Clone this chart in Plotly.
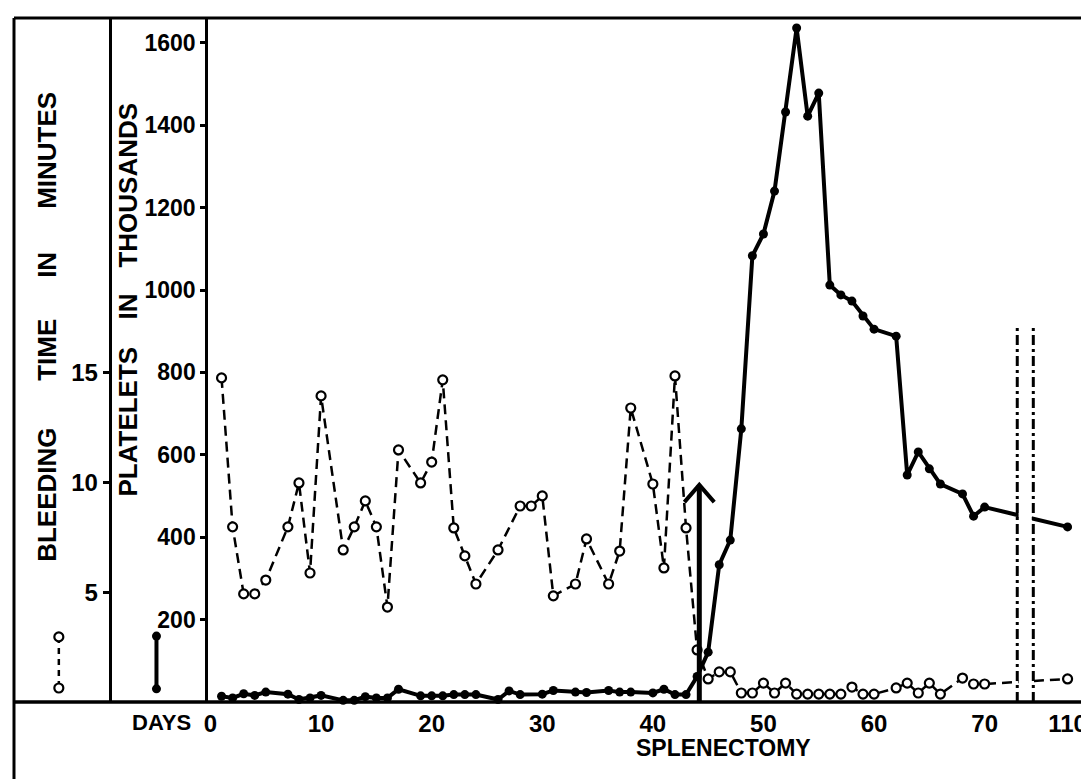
import plotly.graph_objects as go

# ---------------- data ----------------
platelet_days = [1, 2, 3, 4, 5, 7, 8, 9, 10, 12, 13, 14, 15, 16, 17, 19, 20, 21, 22, 23, 24,
                 26, 27, 28, 30, 31, 33, 34, 36, 37, 38, 40, 41, 42, 43, 44, 45, 46, 47, 48,
                 49, 50, 51, 52, 53, 54, 55, 56, 57, 58, 59, 60, 62, 63, 64, 65, 66, 68, 69, 70, 110]
platelets = [14, 10, 20, 16, 24, 19, 6, 10, 16, 4, 4, 13, 10, 10, 31, 15, 15, 15, 18, 18, 18,
             6, 27, 18, 19, 28, 24, 23, 28, 24, 24, 22, 31, 18, 18, 62, 121, 333, 393, 663,
             1083, 1136, 1240, 1432, 1636, 1422, 1478, 1012, 988, 973, 937, 905, 888, 551, 607,
             566, 529, 505, 451, 473, 425]

bleeding_days = [1, 2, 3, 4, 5, 7, 8, 9, 10, 12, 13, 14, 15, 16, 17, 19, 20, 21, 22, 23, 24,
                 26, 28, 29, 30, 31, 33, 34, 36, 37, 38, 40, 41, 42, 43, 44, 45, 46, 47, 48,
                 49, 50, 51, 52, 53, 54, 55, 56, 57, 58, 59, 60, 62, 63, 64, 65, 66, 68, 69, 70, 110]
bleeding_minutes = [14.75, 7.97, 4.92, 4.92, 5.55, 7.97, 9.97, 5.87, 13.93, 6.92, 7.97, 9.15, 7.97,
                    4.32, 11.47, 9.97, 10.92, 14.66, 7.92, 6.65, 5.37, 6.92, 8.92, 8.92, 9.38,
                    4.83, 5.37, 7.42, 5.37, 6.87, 13.38, 9.92, 6.1, 14.84, 7.92, 2.37, 1.05, 1.37,
                    1.37, 0.41, 0.41, 0.86, 0.41, 0.86, 0.36, 0.36, 0.36, 0.36, 0.36, 0.68, 0.36,
                    0.36, 0.64, 0.86, 0.41, 0.86, 0.36, 1.09, 0.82, 0.82, 1.05]

day_ticks = [0, 10, 20, 30, 40, 50, 60, 70, 110]
platelet_ticks = [200, 400, 600, 800, 1000, 1200, 1400, 1600]
bleeding_ticks = [5, 10, 15]
splenectomy_day = 44.2

# ---------------- geometry ----------------
W, H = 1089, 779
OFF = 8                     # page body margin
PLOT_LEFT = 205 - OFF
PLOT_TOP = 18 - OFF
PLOT_BOTTOM = 702 - OFF
PX_PER_DAY = 11.1
X_START = -0.2
PX_PER_PLATELET = 0.412
PLATELETS_PER_MINUTE = 800 / 15
BREAK_AT = 72          # days beyond this are drawn after the axis break
BREAK_POS = 77.5       # axis position of the post-break tick (day 110)
BREAK_LINES = [72.95, 74.4]

def axis_pos(d):
    return d if d <= BREAK_AT else BREAK_POS

x_range = [X_START, X_START + (W - PLOT_LEFT) / PX_PER_DAY]
y_top = (PLOT_BOTTOM - PLOT_TOP) / PX_PER_PLATELET
y_range = [0, y_top]
y2_range = [0, y_top / PLATELETS_PER_MINUTE]

def px(xp):
    return (xp - OFF) / W

def py(yp):
    return (PLOT_BOTTOM - (yp - OFF)) / (PLOT_BOTTOM - PLOT_TOP)

FAM = "Liberation Sans, Arial, sans-serif"
TICK_FONT = dict(family=FAM, size=23, color="black", weight="bold")
TITLE_FONT = dict(family=FAM, size=26, color="black", weight="bold")

OPEN_MARKER = dict(symbol="circle", color="white", size=9, line=dict(color="black", width=2.2))

fig = go.Figure()

fig.add_trace(go.Scatter(
    x=[axis_pos(d) for d in platelet_days], y=platelets, mode="lines+markers",
    line=dict(color="black", width=4),
    marker=dict(color="black", size=9), showlegend=False, cliponaxis=False))

fig.add_trace(go.Scatter(
    x=[axis_pos(d) for d in bleeding_days], y=bleeding_minutes, yaxis="y2",
    mode="lines+markers",
    line=dict(color="black", width=2.5, dash="10px,6px"),
    marker=OPEN_MARKER, showlegend=False, cliponaxis=False))

# key samples in the left margin (x in pixels of the margin strip)
fig.add_trace(go.Scatter(
    x=[55 - OFF, 55 - OFF], y=[158, 34], xaxis="x2", mode="lines+markers",
    line=dict(color="black", width=2.5, dash="6px,5px"),
    marker=OPEN_MARKER, showlegend=False))
fig.add_trace(go.Scatter(
    x=[153 - OFF, 153 - OFF], y=[160, 32], xaxis="x2", mode="lines+markers",
    line=dict(color="black", width=4),
    marker=dict(color="black", size=9), showlegend=False))

shapes = []
# axis break: white gap and dash-dot lines
shapes.append(dict(type="rect", xref="x", yref="y", x0=BREAK_LINES[0] + 0.12,
                   x1=BREAK_LINES[1] - 0.12, y0=8, y1=900,
                   fillcolor="white", line=dict(width=0), layer="above"))
for bx in BREAK_LINES:
    shapes.append(dict(type="line", xref="x", yref="y", x0=bx, x1=bx, y0=0, y1=915,
                       line=dict(color="black", width=3, dash="10px,4px,3px,4px"), layer="above"))
# splenectomy arrow
arrow_top = 527
shapes.append(dict(type="line", xref="x", yref="y", x0=splenectomy_day, x1=splenectomy_day,
                   y0=0, y1=arrow_top, line=dict(color="black", width=5), layer="above"))
shapes.append(dict(type="path", xref="x", yref="y",
                   path=f"M {splenectomy_day-1.35},{arrow_top-42} L {splenectomy_day},{arrow_top} "
                        f"L {splenectomy_day+1.35},{arrow_top-42}",
                   line=dict(color="black", width=4), layer="above"))
# frame
shapes.append(dict(type="line", xref="paper", yref="paper", x0=px(10), x1=1, y0=1, y1=1,
                   line=dict(color="black", width=3)))
shapes.append(dict(type="line", xref="paper", yref="paper", x0=px(10), x1=px(10),
                   y0=1, y1=py(H + OFF), line=dict(color="black", width=3)))
shapes.append(dict(type="line", xref="paper", yref="paper", x0=px(10), x1=1, y0=0, y1=0,
                   line=dict(color="black", width=3.5)))

annotations = []
def vword(text, xc, yc):
    annotations.append(dict(text=text, x=px(xc), y=py(yc), xref="paper", yref="paper",
                            showarrow=False, textangle=-90, font=TITLE_FONT,
                            xanchor="center", yanchor="middle"))

vword("BLEEDING", 43, 495)
vword("TIME", 43, 350)
vword("IN", 43, 265)
vword("MINUTES", 43, 150)
vword("PLATELETS", 124, 422)
vword("IN", 124, 307)
vword("THOUSANDS", 124, 185)

annotations.append(dict(text="DAYS", x=px(158), y=py(722), xref="paper", yref="paper",
                        showarrow=False, font=dict(TICK_FONT, size=22),
                        xanchor="center", yanchor="middle"))
annotations.append(dict(text="SPLENECTOMY", x=px(722), y=py(748), xref="paper", yref="paper",
                        showarrow=False, font=dict(TICK_FONT, size=23),
                        xanchor="center", yanchor="middle"))

fig.update_layout(
    width=W, height=H,
    margin=dict(l=0, r=0, t=PLOT_TOP, b=H - PLOT_BOTTOM, pad=0),
    paper_bgcolor="white", plot_bgcolor="white",
    showlegend=False,
    xaxis=dict(domain=[PLOT_LEFT / W, 1], range=x_range, showgrid=False, zeroline=False,
               showline=False, tickmode="array",
               tickvals=[axis_pos(d) for d in day_ticks], ticktext=[str(d) for d in day_ticks],
               ticks="outside", ticklen=0, tickcolor="rgba(0,0,0,0)",
               tickfont=dict(TICK_FONT, size=24)),
    xaxis2=dict(domain=[0, PLOT_LEFT / W], range=[0, PLOT_LEFT], anchor="y", visible=False),
    yaxis=dict(range=y_range, showgrid=False, zeroline=False, showline=True,
               linecolor="black", linewidth=3, tickmode="array", tickvals=platelet_ticks,
               ticks="outside", ticklen=5, tickwidth=3, tickcolor="black",
               tickfont=TICK_FONT),
    yaxis2=dict(range=y2_range, overlaying="y", anchor="free", position=(106 - OFF) / W,
                side="left", showgrid=False, zeroline=False, showline=True,
                linecolor="black", linewidth=3, tickmode="array", tickvals=bleeding_ticks,
                ticks="outside", ticklen=6, tickwidth=3, tickcolor="black",
                tickfont=dict(TICK_FONT, size=24)),
    shapes=shapes,
    annotations=annotations,
)

fig.write_html("out.html")
